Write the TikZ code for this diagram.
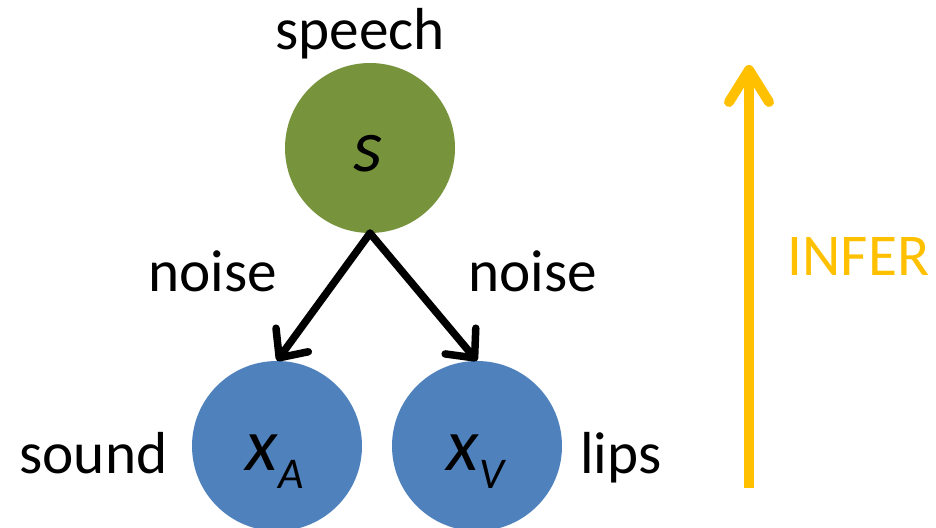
\documentclass[tikz,border=0pt]{standalone}
\usepackage{fontspec}
\setmainfont{Carlito}
\usetikzlibrary{arrows.meta}

\definecolor{speechgreen}{HTML}{77933C}
\definecolor{obsblue}{HTML}{4F81BD}
\definecolor{inferorange}{HTML}{FFC000}

\newcommand{\varlab}[2]{\fontsize{75}{80}\selectfont\textit{#1}%
  \ifx&#2&\else\raisebox{-18bp}{\fontsize{44}{48}\selectfont\textit{#2}}\fi}

\begin{document}
\begin{tikzpicture}[x=1bp,y=-1bp,
  var/.style={circle, minimum size=170bp, inner sep=0pt, draw=none},
  word/.style={anchor=base, inner sep=0pt, font=\fontsize{59.5}{64}\selectfont},
  sym/.style={anchor=base, inner sep=0pt},
  edge/.style={line width=7.5bp, line cap=round,
    -{Straight Barb[length=22bp, width=40bp, round]}},
  inferarrow/.style={draw=inferorange, line width=10bp,
    -{Straight Barb[length=32bp, width=40bp, round]}}]

  \useasboundingbox (0,0) rectangle (936,528);

  % latent and observed variables
  \node[var, fill=speechgreen] (s)  at (370,148) {};
  \node[var, fill=obsblue]    (xa) at (277,446) {};
  \node[var, fill=obsblue]    (xv) at (477,446) {};

  \node[sym] (slab)  at (368.5,172) {\varlab{s}{}};
  \node[sym] (xalab) at (275,470)   {\varlab{x}{A}};
  \node[sym] (xvlab) at (476.5,470) {\varlab{x}{V}};

  % generative links
  \draw[edge] (s.south) -- (xa.north);
  \draw[edge] (s.south) -- (xv.north);

  % text labels
  \node[word] (speech) at (360,50)    {speech};
  \node[word] (noisea) at (212.5,292) {noise};
  \node[word] (noiseb) at (532.5,292) {noise};
  \node[word] (sound)  at (93.5,473)  {sound};
  \node[word] (lips)   at (621,473)   {lips};

  % inference direction
  \coordinate (inferlo) at (749,488);
  \coordinate (inferhi) at (749,65);
  \draw[inferarrow] (inferlo) -- (inferhi);
  \node[word, text=inferorange] (infer) at (858.5,276) {INFER};
\end{tikzpicture}
\end{document}
